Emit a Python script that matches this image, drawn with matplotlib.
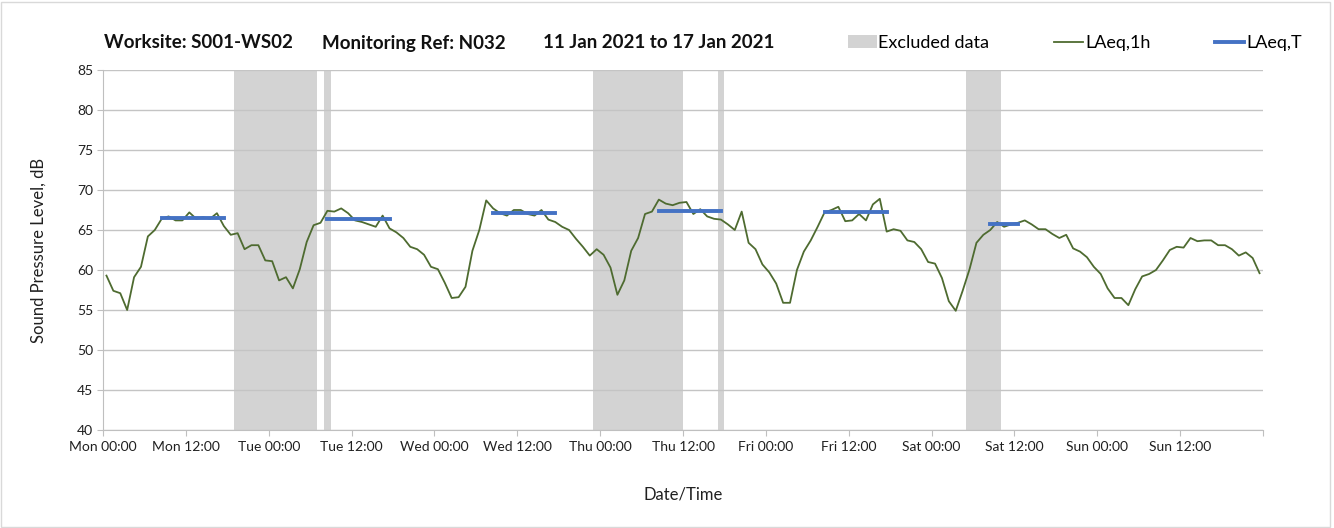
## Noise monitoring chart - hourly LAeq with excluded periods
import numpy as np
import matplotlib.pyplot as plt
from matplotlib.patches import Patch, Rectangle
from matplotlib.lines import Line2D
from matplotlib.ticker import MultipleLocator

plt.rcParams['font.family'] = ['Lato', 'DejaVu Sans']

## data (hour 0 = Mon 00:00, points plotted mid-hour)
laeq_1h = [
    59.3, 57.4, 57.1, 55.0, 59.1, 60.4, 64.2, 65.0, 66.4, 66.7, 66.2, 66.2,
    67.2, 66.4, 66.6, 66.4, 67.1, 65.5, 64.4, 64.6, 62.6, 63.1, 63.1, 61.2,
    61.1, 58.7, 59.1, 57.7, 60.1, 63.5, 65.6, 65.9, 67.4, 67.3, 67.7, 67.1,
    66.2, 66.0, 65.7, 65.4, 66.8, 65.2, 64.7, 64.0, 62.9, 62.6, 61.9, 60.4,
    60.1, 58.4, 56.5, 56.6, 57.9, 62.4, 65.0, 68.7, 67.7, 67.1, 66.8, 67.5,
    67.5, 67.0, 66.8, 67.5, 66.3, 66.0, 65.4, 65.0, 63.9, 62.9, 61.8, 62.6,
    61.9, 60.3, 56.9, 58.7, 62.4, 64.0, 67.0, 67.3, 68.8, 68.3, 68.1, 68.4,
    68.5, 67.0, 67.6, 66.7, 66.4, 66.3, 65.7, 65.0, 67.3, 63.4, 62.6, 60.7,
    59.7, 58.3, 55.9, 55.9, 60.0, 62.3, 63.7, 65.4, 67.2, 67.5, 67.9, 66.1,
    66.2, 67.0, 66.2, 68.2, 68.9, 64.8, 65.1, 64.9, 63.7, 63.5, 62.6, 61.0,
    60.8, 59.0, 56.1, 54.9, 57.4, 60.1, 63.4, 64.4, 65.0, 66.0, 65.4, 65.7,
    65.9, 66.2, 65.7, 65.1, 65.1, 64.5, 64.0, 64.4, 62.7, 62.3, 61.6, 60.4,
    59.5, 57.7, 56.5, 56.5, 55.6, 57.6, 59.2, 59.5, 60.0, 61.2, 62.5, 62.9,
    62.8, 64.0, 63.6, 63.7, 63.7, 63.1, 63.1, 62.6, 61.8, 62.2, 61.5, 59.6,
]
hours = np.arange(len(laeq_1h)) + 0.5

# LAeq,T over the working periods
period_start = [8.5, 32.5, 56.5, 80.5, 104.5, 128.5]
period_end = [17.5, 41.5, 65.5, 89.5, 113.5, 132.5]
laeq_t = [66.5, 66.4, 67.1, 67.35, 67.2, 65.7]

# excluded periods (hours)
excl_start = [19, 32, 71, 89, 125]
excl_end = [31, 33, 84, 90, 130]

days = ['Mon', 'Tue', 'Wed', 'Thu', 'Fri', 'Sat', 'Sun']
tick_labels = [f"{d} {t}" for d in days for t in ('00:00', '12:00')] + ['']

title_parts = ["Worksite: S001-WS02", "Monitoring Ref: N032",
               "11 Jan 2021 to 17 Jan 2021"]
title_x = [104, 322, 543]  # pixel positions of the title pieces

## figure
fig = plt.figure(figsize=(13.34, 5.28), dpi=100)
ax = fig.add_axes([103 / 1334, 98 / 528, 1160 / 1334, 360 / 528])

for s, e in zip(excl_start, excl_end):
    ax.axvspan(s, e, color='#d3d3d3', lw=0, zorder=0.2)

ax.plot(hours, laeq_1h, color='#4e6b30', lw=1.3, zorder=3)
for s, e, v in zip(period_start, period_end, laeq_t):
    ax.plot([s, e], [v, v], color='#4472c4', lw=2.8,
            solid_capstyle='projecting', zorder=4)

ax.set_xlim(0, 168)
ax.set_ylim(40, 85)
ax.set_xticks(np.arange(0, 169, 12))
ax.set_xticklabels(tick_labels)
ax.xaxis.set_minor_locator(MultipleLocator(24))
ax.yaxis.set_major_locator(MultipleLocator(5))

ax.set_axisbelow(True)
ax.grid(which='minor', axis='x', color='#d6d6d6', lw=1)
ax.grid(which='major', axis='y', color='#c4c4c4', lw=1)

for side in ('top', 'right'):
    ax.spines[side].set_visible(False)
for side in ('left', 'bottom'):
    ax.spines[side].set_color('#bfbfbf')
ax.tick_params(axis='x', which='major', length=4, color='#bfbfbf',
               labelsize=10, labelcolor='#202020', pad=4)
ax.tick_params(axis='x', which='minor', length=0)
ax.tick_params(axis='y', length=4, color='#bfbfbf', labelsize=10,
               labelcolor='#202020', pad=3)

ax.set_xlabel("Date/Time", fontsize=12, labelpad=24, color='#202020')
ax.set_ylabel("Sound Pressure Level, dB", fontsize=12, labelpad=22,
              color='#202020')

for txt, px in zip(title_parts, title_x):
    fig.text(px / 1334, 1 - 43 / 528, txt, fontsize=13.5, fontweight='bold',
             va='center', ha='left', color='#111111')

handles = [Patch(facecolor='#d3d3d3', edgecolor='none'),
           Line2D([], [], color='#4e6b30', lw=1.3),
           Line2D([], [], color='#4472c4', lw=2.8)]
fig.legend(handles, ['Excluded data', 'LAeq,1h', 'LAeq,T'],
           loc='center right', bbox_to_anchor=(1318 / 1334, 1 - 43 / 528),
           ncol=3, frameon=False, fontsize=13, handlelength=1.6,
           handletextpad=0.1, columnspacing=3.6)

# chart area border
fig.patches.append(Rectangle((0.001, 0.002), 0.996, 0.994,
                             transform=fig.transFigure, fill=False,
                             edgecolor='#d9d9d9', lw=1))

fig.savefig("out.png", dpi=100)
